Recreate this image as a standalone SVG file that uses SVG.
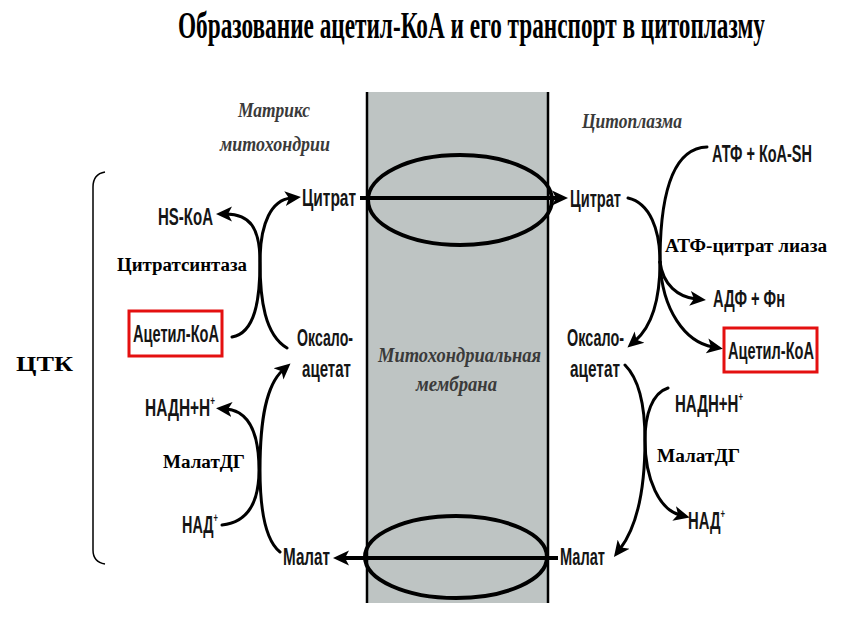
<svg xmlns="http://www.w3.org/2000/svg" width="857" height="617" viewBox="0 0 857 617">
<style>
.t{font-family:"Liberation Serif","Times New Roman",serif;font-weight:bold;fill:#000}
.l{font-family:"Liberation Sans",Arial,sans-serif;font-weight:bold;font-size:23px;fill:#151515}
.sup{font-size:12px}
.e{font-family:"Liberation Serif","Times New Roman",serif;font-weight:bold;font-size:18px;fill:#000}
.i{font-family:"Liberation Serif","Times New Roman",serif;font-style:italic;font-weight:bold;font-size:21px;fill:#3a3a3a}
.c{fill:none;stroke:#000;stroke-width:3;stroke-linecap:round}
.box{fill:none;stroke:#e41010;stroke-width:3}
</style>
<defs>
<marker id="ah" markerUnits="userSpaceOnUse" markerWidth="17" markerHeight="17" refX="6" refY="8.5" orient="auto" viewBox="0 0 17 17">
<path d="M0,1 L16,8.5 L0,16 L4,8.5 z" fill="#000"/>
</marker>
</defs>
<rect width="857" height="617" fill="#fff"/>

<text class="t" x="178" y="38" font-size="38" textLength="587" lengthAdjust="spacingAndGlyphs">Образование ацетил-КоА и его транспорт в цитоплазму</text>

<g id="membrane">
<rect x="367" y="92" width="181" height="511" fill="#bec4c3"/>
<line x1="367" y1="92" x2="367" y2="603" stroke="#000" stroke-width="2.5"/>
<line x1="548" y1="92" x2="548" y2="603" stroke="#000" stroke-width="2.5"/>
<text class="i" x="378" y="362" font-size="22" textLength="163" lengthAdjust="spacingAndGlyphs" fill="#2e2e2e">Митохондриальная</text>
<text class="i" x="416" y="391" font-size="22" textLength="81" lengthAdjust="spacingAndGlyphs" fill="#2e2e2e">мембрана</text>
</g>

<g id="labels-regions">
<text class="i" x="238" y="117" textLength="72" lengthAdjust="spacingAndGlyphs">Матрикс</text>
<text class="i" x="220" y="151" textLength="110" lengthAdjust="spacingAndGlyphs">митохондрии</text>
<text class="i" x="582" y="128" textLength="100" lengthAdjust="spacingAndGlyphs">Цитоплазма</text>
</g>

<g id="tca-brace">
<path d="M105,172 Q93,174 93,187 L93,550 Q93,562 105,564" fill="none" stroke="#000" stroke-width="1.5"/>
<text class="t" x="16" y="371" font-size="22" textLength="57" lengthAdjust="spacingAndGlyphs">ЦТК</text>
</g>

<g id="citrate-left"><text class="l" x="302" y="206" textLength="54" lengthAdjust="spacingAndGlyphs">Цитрат</text></g>
<g id="hskoa-left"><text class="l" x="158" y="225" textLength="55" lengthAdjust="spacingAndGlyphs">HS-КоА</text></g>
<g id="acetylcoa-left">
<rect class="box" x="129" y="311" width="93" height="45"/>
<text class="l" x="133" y="342" textLength="86" lengthAdjust="spacingAndGlyphs">Ацетил-КоА</text>
</g>
<g id="citrate-synthase"><text class="e" x="117" y="271" textLength="130" lengthAdjust="spacingAndGlyphs">Цитратсинтаза</text></g>
<g id="oaa-left">
<text class="l" x="297" y="346" textLength="56" lengthAdjust="spacingAndGlyphs">Оксало-</text>
<text class="l" x="302" y="377" textLength="49" lengthAdjust="spacingAndGlyphs">ацетат</text>
</g>
<g id="nadh-left"><text class="l" x="145" y="416" textLength="70" lengthAdjust="spacingAndGlyphs">НАДН+Н<tspan class="sup" dy="-11">+</tspan></text></g>
<g id="mdh-left"><text class="e" x="163" y="468" textLength="82" lengthAdjust="spacingAndGlyphs">МалатДГ</text></g>
<g id="nad-left"><text class="l" x="182" y="533" textLength="36" lengthAdjust="spacingAndGlyphs">НАД<tspan class="sup" dy="-11">+</tspan></text></g>
<g id="malate-left"><text class="l" x="283" y="565" textLength="47" lengthAdjust="spacingAndGlyphs">Малат</text></g>

<g id="citrate-right"><text class="l" x="570" y="207" textLength="51" lengthAdjust="spacingAndGlyphs">Цитрат</text></g>
<g id="atp-coa"><text class="l" x="712" y="162" textLength="100" lengthAdjust="spacingAndGlyphs">АТФ + КоА-SH</text></g>
<g id="atp-citrate-lyase"><text class="e" x="665" y="252" textLength="162" lengthAdjust="spacingAndGlyphs">АТФ-цитрат лиаза</text></g>
<g id="adp-pi"><text class="l" x="713" y="307" textLength="72" lengthAdjust="spacingAndGlyphs">АДФ + Фн</text></g>
<g id="acetylcoa-right">
<rect class="box" x="724" y="328" width="93" height="44"/>
<text class="l" x="728" y="359" textLength="86" lengthAdjust="spacingAndGlyphs">Ацетил-КоА</text>
</g>
<g id="oaa-right">
<text class="l" x="567" y="346" textLength="57" lengthAdjust="spacingAndGlyphs">Оксало-</text>
<text class="l" x="570" y="377" textLength="50" lengthAdjust="spacingAndGlyphs">ацетат</text>
</g>
<g id="nadh-right"><text class="l" x="675" y="412" textLength="68" lengthAdjust="spacingAndGlyphs">НАДН+Н<tspan class="sup" dy="-11">+</tspan></text></g>
<g id="mdh-right"><text class="e" x="657" y="462" textLength="83" lengthAdjust="spacingAndGlyphs">МалатДГ</text></g>
<g id="nad-right"><text class="l" x="688" y="529" textLength="37" lengthAdjust="spacingAndGlyphs">НАД<tspan class="sup" dy="-11">+</tspan></text></g>
<g id="malate-right"><text class="l" x="560" y="565" textLength="45" lengthAdjust="spacingAndGlyphs">Малат</text></g>

<g id="transporters">
<ellipse cx="460" cy="200" rx="92" ry="45" fill="none" stroke="#000" stroke-width="4"/>
<ellipse cx="456" cy="557" rx="91" ry="41" fill="none" stroke="#000" stroke-width="4"/>
</g>

<g id="connectors">
<line x1="360" y1="198" x2="558" y2="198" stroke="#000" stroke-width="4" marker-end="url(#ah)"/>
<line x1="558" y1="558" x2="343" y2="558" stroke="#000" stroke-width="4" marker-end="url(#ah)"/>
<path class="c" d="M232,337 C255,333 260,300 260,262 C260,222 272,200 291,198" marker-end="url(#ah)"/>
<path class="c" d="M287,348 C265,335 260,300 260,262 C260,228 250,214 226,214" marker-end="url(#ah)"/>
<path class="c" d="M280,552 C265,540 260,510 260,470 C260,420 266,385 283,370" marker-end="url(#ah)"/>
<path class="c" d="M222,525 C250,522 259,500 259,470 C259,435 250,411 226,409" marker-end="url(#ah)"/>
<path class="c" d="M628,198 C650,203 660,230 660,262"/>
<path class="c" d="M707,147 C676,148 660,185 660,262"/>
<path class="c" d="M660,262 C660,305 650,328 635,341" marker-end="url(#ah)"/>
<path class="c" d="M660,262 C663,285 678,297 696,299" marker-end="url(#ah)"/>
<path class="c" d="M660,262 C662,310 685,342 713,347" marker-end="url(#ah)"/>
<path class="c" d="M625,365 C640,380 645,410 645,440 C645,495 636,528 620,549" marker-end="url(#ah)"/>
<path class="c" d="M668,388 C652,393 645,415 645,440 C645,480 660,510 680,515" marker-end="url(#ah)"/>
</g>
</svg>
